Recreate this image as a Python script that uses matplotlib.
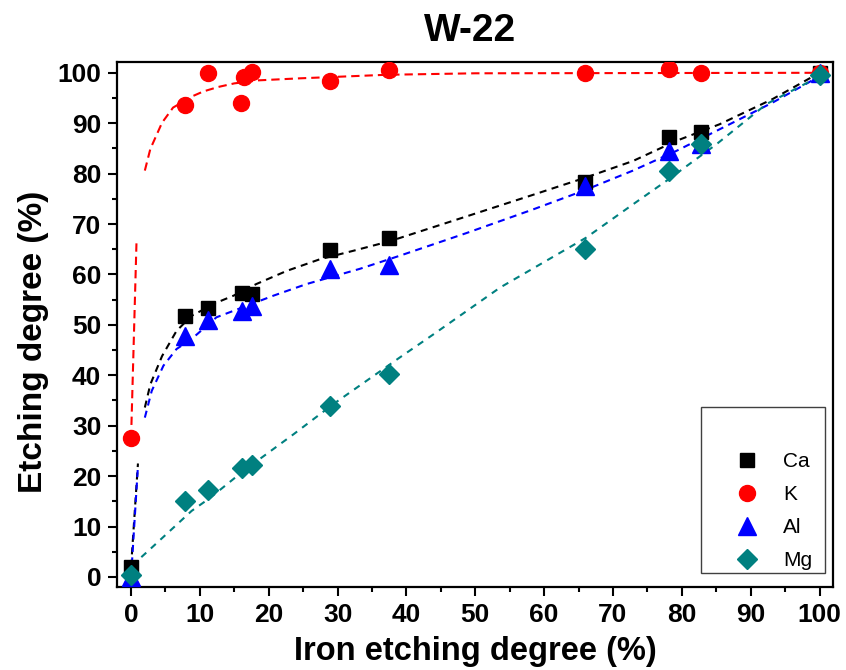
import numpy as np
import matplotlib
matplotlib.use("Agg")
import matplotlib.pyplot as plt
from matplotlib.patches import Rectangle
from matplotlib.ticker import MultipleLocator

plt.rcParams['font.family'] = ['Liberation Sans', 'DejaVu Sans']

# Measured etching degrees (%) versus iron etching degree (%)
iron = [0, 7.9, 11.2, 16.1, 17.5, 28.9, 37.4, 66.0, 78.1, 82.8, 100]
ca = [2.0, 51.8, 53.3, 56.4, 56.1, 64.8, 67.3, 78.3, 87.2, 88.2, 100]
al = [0.0, 47.8, 51.0, 52.8, 53.8, 61.0, 61.8, 77.5, 84.5, 85.8, 100]
mg = [0.3, 15.1, 17.2, 21.7, 22.2, 33.9, 40.3, 65.0, 80.6, 85.8, 99.6]

iron_k = [0, 7.9, 11.2, 15.9, 16.4, 17.5, 28.9, 37.4, 66.0, 78.1, 82.8, 100]
k = [27.5, 93.6, 99.9, 94.1, 99.2, 100.1, 98.3, 100.5, 100.0, 100.7, 100.0, 100]

# Fitted trend curves (NaN marks a break in the drawn curve)
nan = np.nan
ca_fit_x = [0, 1.0, nan, 2.0, 2.8, 4.5, 6.6, 8.8, 12.4, 14.9, 18.2, 22.6, 27.4, 32.3,
            37.6, 48.7, 58.4, 66.0, 72.9, 79.2, 85.5, 93.2, 100]
ca_fit_y = [2.0, 22.5, nan, 33.6, 38.2, 43.8, 48.8, 51.8, 54.4, 55.8, 58.1, 60.7, 63.0, 64.7,
            66.6, 71.5, 75.8, 79.2, 82.5, 86.5, 89.8, 94.8, 100]
k_fit_x = [0, 0.8, nan, 2.0, 2.8, 4.5, 6.1, 9.0, 10.5, 12.7, 15.0, 18.5, 24.5, 37.0, 50.0, 100]
k_fit_y = [27.5, 67.0, nan, 80.6, 84.9, 90.1, 93.1, 95.4, 96.3, 97.2, 97.9, 98.5, 98.9, 99.6, 99.9, 100]
al_fit_x = [0, 1.0, nan, 2.0, 3.0, 4.7, 6.6, 8.8, 12.4, 20.7, 25.5, 33.2, 39.0, 48.7, 58.4,
            65.7, 72.9, 79.2, 85.5, 93.2, 100]
al_fit_y = [0.0, 22.0, nan, 31.6, 36.9, 41.9, 45.2, 47.2, 51.5, 55.8, 58.1, 61.1, 63.7, 68.2, 72.9,
            76.6, 80.6, 84.5, 88.8, 94.1, 99.3]
mg_fit_x = [0.1, 3.0, 8.8, 11.5, 16.3, 23.6, 29.4, 39.0, 43.9, 53.6, 63.2, 66.1, 72.9, 77.8,
            85.0, 92.3, 100]
mg_fit_y = [2.2, 5.8, 13.1, 15.7, 21.0, 28.3, 34.3, 43.5, 48.1, 57.4, 65.0, 67.3, 73.9, 78.6,
            85.8, 93.8, 99.3]

RED = '#FF0000'
BLUE = '#0000FF'
TEAL = '#008080'
BLACK = '#000000'

fig = plt.figure(figsize=(8.46, 6.70), dpi=100)
ax = fig.add_axes([117.3 / 846, 83 / 670, 716 / 846, 525.3 / 670])

# trend curves
ax.plot(ca_fit_x, ca_fit_y, color=BLACK, lw=1.5, dashes=(3.4, 2.6), zorder=2)
ax.plot(k_fit_x, k_fit_y, color=RED, lw=1.5, dashes=(4.0, 2.4), zorder=2)
ax.plot(al_fit_x, al_fit_y, color=BLUE, lw=1.5, dashes=(3.4, 2.6), zorder=2)
ax.plot(mg_fit_x, mg_fit_y, color=TEAL, lw=1.5, dashes=(3.2, 3.0), zorder=2)

# measured points
ax.plot(iron, ca, ls='none', marker='s', ms=10, color=BLACK, label='Ca', zorder=3)
ax.plot(iron_k, k, ls='none', marker='o', ms=11.5, color=RED, label='K', zorder=3)
ax.plot(iron, al, ls='none', marker='^', ms=13, color=BLUE, label='Al', zorder=3)
ax.plot(iron, mg, ls='none', marker='D', ms=10.5, color=TEAL, label='Mg', zorder=3)

ax.set_xlim(-2, 102)
ax.set_ylim(-2, 102.2)
ax.xaxis.set_major_locator(MultipleLocator(10))
ax.xaxis.set_minor_locator(MultipleLocator(5))
ax.yaxis.set_major_locator(MultipleLocator(10))
ax.yaxis.set_minor_locator(MultipleLocator(5))

for side in ax.spines.values():
    side.set_linewidth(1.6)
ax.tick_params(which='both', direction='out', width=1.5, top=False, right=False)
ax.tick_params(which='major', length=6.5, pad=5, labelsize=19)
ax.tick_params(which='minor', length=3.8)
for lbl in ax.get_xticklabels() + ax.get_yticklabels():
    lbl.set_fontweight('bold')

ax.set_xlabel('Iron etching degree (%)', fontsize=23.5, fontweight='bold')
ax.set_ylabel('Etching degree (%)', fontsize=24, fontweight='bold')
ax.xaxis.set_label_coords(0.5, -0.093)
ax.yaxis.set_label_coords(-0.096, 0.467)

fig.text(470 / 846, 1 - 40.7 / 670, 'W-22', fontsize=28, fontweight='bold',
         ha='center', va='baseline')

leg = ax.legend(loc='upper left', bbox_to_anchor=(736.3 / 846, 1 - 452 / 670),
                bbox_transform=fig.transFigure, frameon=False, fontsize=15,
                numpoints=1, handlelength=1.0, handletextpad=1.25,
                labelspacing=0.68, borderpad=0, borderaxespad=0)
fig.add_artist(Rectangle((700.7 / 846, 1 - 573.3 / 670), 124.3 / 846, 166.6 / 670,
                         transform=fig.transFigure, fill=False, lw=1.0,
                         edgecolor='#404040', zorder=5))

fig.savefig('out.png', dpi=100)
